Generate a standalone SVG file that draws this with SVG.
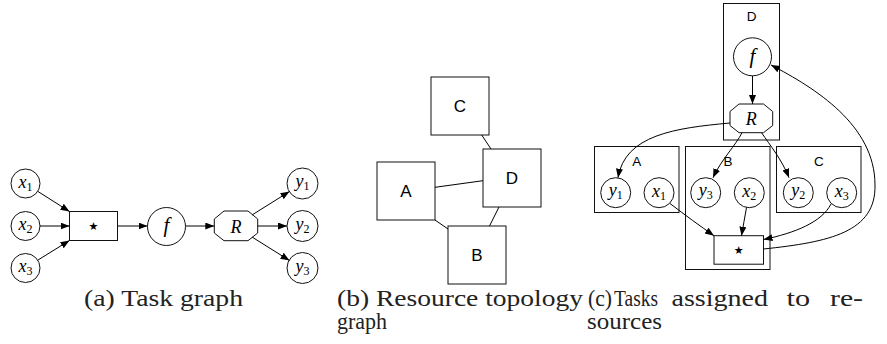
<svg xmlns="http://www.w3.org/2000/svg" width="887" height="344" viewBox="0 0 887 344">
<style>
.n{fill:#fff;stroke:#111;stroke-width:1}
.cl{fill:none;stroke:#111;stroke-width:1}
.e{fill:none;stroke:#000;stroke-width:1;marker-end:url(#arr)}
.u{fill:none;stroke:#000;stroke-width:1}
text{font-family:'Liberation Serif',serif}
text.m{font-family:'Liberation Serif',serif;font-style:italic;font-size:18px;text-anchor:middle}
text.big{font-size:21px}
tspan.s{font-size:12px;font-style:normal}
text.sans{font-family:'Liberation Sans',sans-serif;text-anchor:middle}
text.star{font-family:'DejaVu Sans',sans-serif;font-size:11px;text-anchor:middle}
text.cap{font-family:'Liberation Serif',serif;font-size:23px;fill:#222}
</style>
<defs>
<marker id="arr" markerUnits="userSpaceOnUse" markerWidth="10" markerHeight="8" refX="9" refY="3.5" orient="auto">
<path d="M0,0 L9,3.5 L0,7 z" fill="#000"/>
</marker>
</defs>

<g id="a-x1"><circle class="n" cx="25.5" cy="183.5" r="14.5"/><text class="m" x="25.5" y="187.5">x<tspan class="s" dy="3">1</tspan></text></g>
<g id="a-x2"><circle class="n" cx="25.5" cy="226" r="14.5"/><text class="m" x="25.5" y="230">x<tspan class="s" dy="3">2</tspan></text></g>
<g id="a-x3"><circle class="n" cx="25.5" cy="268" r="14.5"/><text class="m" x="25.5" y="272">x<tspan class="s" dy="3">3</tspan></text></g>
<g id="a-star"><rect class="n" x="69.5" y="211.5" width="48" height="29"/><text class="star" x="93.5" y="230">★</text></g>
<g id="a-f"><circle class="n" cx="166.5" cy="226.5" r="19"/><text class="m big" x="166.5" y="232">f</text></g>
<g id="a-R"><polygon class="n" points="224,211 248,211 257.7,219 257.7,233 248,240.7 224,240.7 214.3,233 214.3,219"/><text class="m" x="236" y="232.5">R</text></g>
<g id="a-y1"><circle class="n" cx="302.5" cy="183.5" r="15.5"/><text class="m" x="302.5" y="187">y<tspan class="s" dy="3">1</tspan></text></g>
<g id="a-y2"><circle class="n" cx="302.5" cy="226" r="15.5"/><text class="m" x="302.5" y="229.5">y<tspan class="s" dy="3">2</tspan></text></g>
<g id="a-y3"><circle class="n" cx="302.5" cy="268" r="15.5"/><text class="m" x="302.5" y="271.5">y<tspan class="s" dy="3">3</tspan></text></g>

<g id="b-C"><rect class="n" x="431" y="77" width="58" height="58"/><text class="sans" font-size="17" x="460" y="112">C</text></g>
<g id="b-D"><rect class="n" x="483" y="149" width="58" height="58"/><text class="sans" font-size="17" x="512" y="184">D</text></g>
<g id="b-A"><rect class="n" x="377" y="162" width="58" height="58"/><text class="sans" font-size="17" x="406" y="197">A</text></g>
<g id="b-B"><rect class="n" x="448" y="226" width="58" height="58"/><text class="sans" font-size="17" x="477" y="261">B</text></g>

<g id="c-Dbox"><rect class="cl" x="723.5" y="3.5" width="56" height="136.5"/><text class="sans" font-size="13.5" x="751.5" y="21">D</text></g>
<g id="c-Abox"><rect class="cl" x="594.5" y="146.5" width="84.5" height="66"/><text class="sans" font-size="13.5" x="636.7" y="165.5">A</text></g>
<g id="c-Bbox"><rect class="cl" x="685.5" y="146.5" width="84.5" height="123"/><text class="sans" font-size="13.5" x="728" y="165.5">B</text></g>
<g id="c-Cbox"><rect class="cl" x="776.5" y="146.5" width="84.5" height="66"/><text class="sans" font-size="13.5" x="818.8" y="165.5">C</text></g>

<g id="c-f"><circle class="n" cx="752.5" cy="56.8" r="19"/><text class="m big" x="752.5" y="62.5">f</text></g>
<g id="c-R"><polygon class="n" points="739,104 763.5,104 772.7,111.5 772.7,125.5 763.5,132.7 739,132.7 730,125.5 730,111.5"/><text class="m" x="751.3" y="125">R</text></g>
<g id="c-y1"><circle class="n" cx="615.7" cy="192.7" r="15"/><text class="m" x="615.7" y="196.2">y<tspan class="s" dy="3">1</tspan></text></g>
<g id="c-x1"><circle class="n" cx="659" cy="192.7" r="15"/><text class="m" x="659" y="196.7">x<tspan class="s" dy="3">1</tspan></text></g>
<g id="c-y3"><circle class="n" cx="705.7" cy="192.7" r="15"/><text class="m" x="705.7" y="196.2">y<tspan class="s" dy="3">3</tspan></text></g>
<g id="c-x2"><circle class="n" cx="749.3" cy="192.7" r="15"/><text class="m" x="749.3" y="196.7">x<tspan class="s" dy="3">2</tspan></text></g>
<g id="c-y2"><circle class="n" cx="798.3" cy="192.7" r="15"/><text class="m" x="798.3" y="196.2">y<tspan class="s" dy="3">2</tspan></text></g>
<g id="c-x3"><circle class="n" cx="841.7" cy="192.7" r="15"/><text class="m" x="841.7" y="196.7">x<tspan class="s" dy="3">3</tspan></text></g>
<g id="c-star"><rect class="n" x="714" y="235.7" width="49.5" height="28.5"/><text class="star" x="738.7" y="254">★</text></g>

<g id="connectors">
<path class="e" d="M38,191.5 L69.5,211.5"/>
<path class="e" d="M40,226 L69.5,226"/>
<path class="e" d="M38,260 L69.5,240.5"/>
<path class="e" d="M117.5,226 L147.5,226"/>
<path class="e" d="M185.5,226 L214.3,226"/>
<path class="e" d="M252,215 L289.5,191.5"/>
<path class="e" d="M257.7,226 L287,226"/>
<path class="e" d="M252,237 L289.5,260.5"/>
<path class="u" d="M481.7,135 L491,149"/>
<path class="u" d="M435,187.3 L483,180.7"/>
<path class="u" d="M435,220 L448,229"/>
<path class="u" d="M499,207 L489.5,226"/>
<path class="e" d="M752.5,76 L752.5,104"/>
<path class="e" d="M730,123 C675,128 625,135 618,177.7"/>
<path class="e" d="M742,132.7 C736,145 721,160 713,177.7"/>
<path class="e" d="M761.5,132.7 C770,145 782,160 789,177.7"/>
<path class="e" d="M670,203.5 C685,215 700,226 714,235.7"/>
<path class="e" d="M746.5,207.5 C745,217 743,226 741.5,235.7"/>
<path class="e" d="M831,204 C822,222 795,233 763.5,239.5"/>
<path class="e" d="M763.5,249 C830,242 876,232 875,185 C875,125 815,88 771,65"/>
</g>

<g id="captions">
<text class="cap" x="84" y="305.5" textLength="159" lengthAdjust="spacingAndGlyphs">(a) Task graph</text>
<text class="cap" x="337" y="305.5" textLength="246" lengthAdjust="spacingAndGlyphs">(b) Resource topology</text>
<text class="cap" x="337" y="328.5" textLength="50" lengthAdjust="spacingAndGlyphs">graph</text>
<text class="cap" x="588" y="305.5" textLength="24" lengthAdjust="spacingAndGlyphs">(c)</text>
<text class="cap" x="614" y="305.5" textLength="44" lengthAdjust="spacingAndGlyphs">Tasks</text>
<text class="cap" x="671.5" y="305.5" textLength="96.5" lengthAdjust="spacingAndGlyphs">assigned</text>
<text class="cap" x="786.5" y="305.5" textLength="23.5" lengthAdjust="spacingAndGlyphs">to</text>
<text class="cap" x="830" y="305.5" textLength="33" lengthAdjust="spacingAndGlyphs">re-</text>
<text class="cap" x="587" y="328.5" textLength="75" lengthAdjust="spacingAndGlyphs">sources</text>
</g>
</svg>
